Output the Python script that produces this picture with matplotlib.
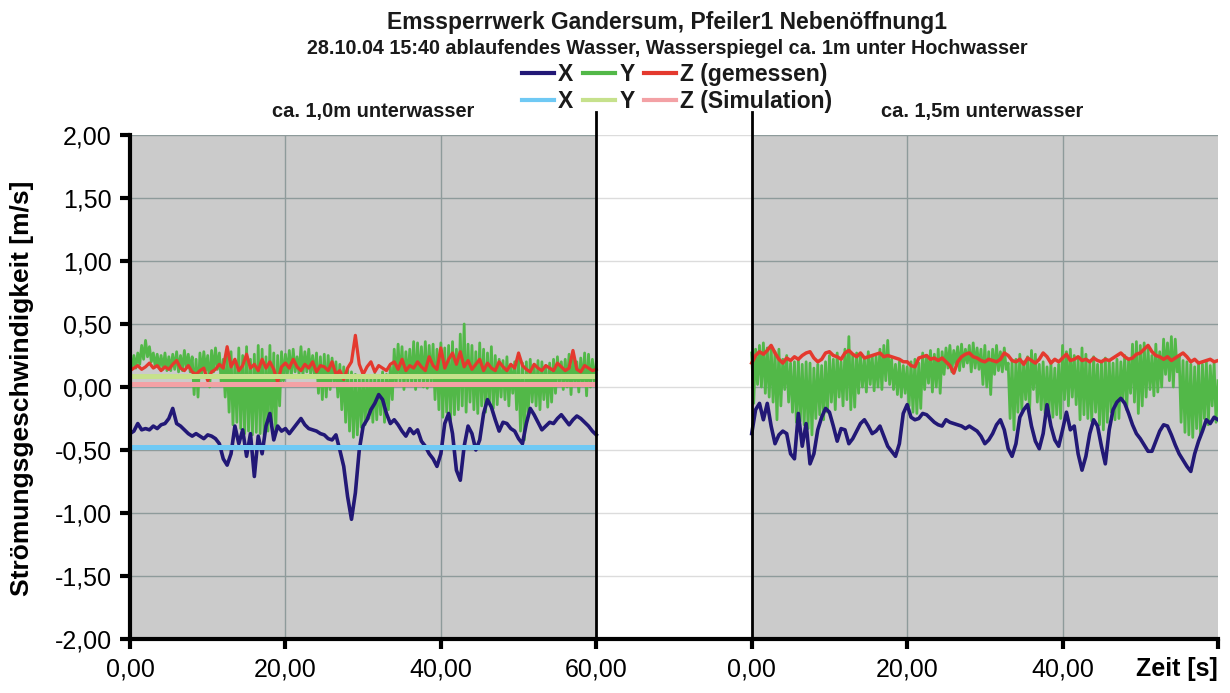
import numpy as np
import matplotlib
matplotlib.use("Agg")
import matplotlib.pyplot as plt
from matplotlib import font_manager

# ---------------- data ----------------
title = "Emssperrwerk Gandersum, Pfeiler1 Nebenöffnung1"
subtitle = "28.10.04 15:40 ablaufendes Wasser, Wasserspiegel ca. 1m unter Hochwasser"
panel_titles = ["ca. 1,0m unterwasser", "ca. 1,5m unterwasser"]
x_tick_values = [0, 20, 40, 60]
y_tick_values = [-2.0, -1.5, -1.0, -0.5, 0.0, 0.5, 1.0, 1.5, 2.0]

# measured X, 0.5 s steps (0..60 s), left panel (1,0 m)
x_left = [
    -0.37, -0.35, -0.29, -0.34, -0.33, -0.34, -0.31, -0.33, -0.30, -0.29,
    -0.25, -0.17, -0.29, -0.31, -0.34, -0.37, -0.39, -0.37, -0.39, -0.41,
    -0.38, -0.39, -0.41, -0.45, -0.57, -0.62, -0.53, -0.31, -0.45, -0.34,
    -0.55, -0.37, -0.71, -0.39, -0.53, -0.31, -0.21, -0.42, -0.31, -0.35,
    -0.33, -0.37, -0.33, -0.29, -0.25, -0.30, -0.33, -0.34, -0.35, -0.37,
    -0.38, -0.41, -0.42, -0.38, -0.50, -0.63, -0.87, -1.05, -0.84, -0.50,
    -0.31, -0.26, -0.18, -0.13, -0.06, -0.10, -0.21, -0.29, -0.26, -0.30,
    -0.35, -0.39, -0.33, -0.37, -0.34, -0.43, -0.47, -0.53, -0.57, -0.63,
    -0.53, -0.29, -0.21, -0.37, -0.66, -0.74, -0.47, -0.31, -0.37, -0.50,
    -0.42, -0.21, -0.10, -0.16, -0.26, -0.35, -0.28, -0.29, -0.33, -0.35,
    -0.41, -0.45, -0.29, -0.17, -0.22, -0.28, -0.34, -0.31, -0.28, -0.29,
    -0.25, -0.22, -0.26, -0.30, -0.26, -0.23, -0.25, -0.28, -0.31, -0.35,
    -0.38]

# measured X, right panel (1,5 m)
x_right = [
    -0.37, -0.18, -0.13, -0.26, -0.13, -0.31, -0.45, -0.38, -0.35, -0.37,
    -0.53, -0.57, -0.21, -0.47, -0.29, -0.61, -0.53, -0.34, -0.24, -0.17,
    -0.20, -0.31, -0.43, -0.33, -0.34, -0.45, -0.41, -0.35, -0.29, -0.26,
    -0.31, -0.37, -0.35, -0.31, -0.39, -0.47, -0.51, -0.55, -0.45, -0.21,
    -0.14, -0.24, -0.26, -0.25, -0.21, -0.22, -0.25, -0.28, -0.30, -0.31,
    -0.26, -0.28, -0.29, -0.30, -0.31, -0.33, -0.31, -0.33, -0.35, -0.39,
    -0.45, -0.42, -0.37, -0.30, -0.26, -0.34, -0.49, -0.55, -0.45, -0.24,
    -0.18, -0.14, -0.31, -0.43, -0.49, -0.37, -0.14, -0.31, -0.42, -0.47,
    -0.34, -0.20, -0.34, -0.31, -0.53, -0.66, -0.55, -0.37, -0.26, -0.31,
    -0.47, -0.61, -0.34, -0.18, -0.12, -0.09, -0.13, -0.21, -0.30, -0.37,
    -0.41, -0.46, -0.51, -0.51, -0.43, -0.35, -0.30, -0.31, -0.38, -0.46,
    -0.53, -0.58, -0.63, -0.67, -0.53, -0.43, -0.35, -0.26, -0.29, -0.24,
    -0.26]

# measured Y, 0.25 s steps (0..60 s), left panel
y_left = [
    0.22, 0.14, 0.25, 0.15,   0.27, 0.18, 0.33, 0.22,   0.37, 0.24, 0.32, 0.20,
    0.27, 0.16, 0.26, 0.15,   0.25, 0.14, 0.27, 0.13,   0.24, 0.13, 0.26, 0.14,
    0.28, 0.12, 0.25, 0.13,   0.29, 0.15, 0.26, 0.12,   0.24, -0.06, 0.22, -0.08,
    0.27, 0.10, 0.28, 0.13,   0.25, 0.00, 0.29, 0.12,   0.31, 0.14, 0.27, 0.02,
    0.22, -0.08, 0.24, -0.20, 0.28, -0.30, 0.20, -0.28, 0.31, -0.33, 0.25, -0.37,
    0.32, -0.35, 0.22, -0.38, 0.26, -0.36, 0.33, -0.37, 0.30, -0.38, 0.24, -0.35,
    0.33, -0.30, 0.27, -0.36, 0.25, -0.15, 0.28, 0.05,  0.26, 0.10, 0.29, 0.08,
    0.30, 0.12, 0.24, 0.10,   0.32, 0.09, 0.28, 0.12,   0.30, 0.10, 0.25, 0.08,
    0.27, -0.05, 0.24, -0.10, 0.26, -0.08, 0.25, -0.02, 0.23, 0.03, 0.20, -0.08,
    0.18, -0.18, 0.16, -0.28, 0.14, -0.35, 0.12, -0.40, 0.10, -0.38, 0.08, -0.32,
    0.10, -0.30, 0.07, -0.25, 0.09, -0.28, 0.10, -0.26, 0.08, -0.22, 0.12, -0.28,
    0.10, -0.18, 0.16, -0.10, 0.30, 0.02, 0.34, 0.04,   0.32, -0.02, 0.28, 0.03,
    0.30, 0.01, 0.36, -0.02,  0.35, 0.04, 0.32, 0.00,   0.36, -0.01, 0.33, 0.02,
    0.34, -0.10, 0.30, -0.18, 0.35, -0.24, 0.31, -0.20, 0.33, -0.26, 0.36, -0.22,
    0.30, -0.18, 0.42, -0.15, 0.50, -0.20, 0.34, -0.12, 0.33, -0.18, 0.28, -0.21,
    0.35, -0.15, 0.30, -0.20, 0.27, -0.12, 0.32, -0.17, 0.25, -0.14, 0.22, -0.08,
    0.21, -0.10, 0.24, -0.15, 0.18, -0.05, 0.20, -0.18, 0.22, -0.35, 0.19, -0.42,
    0.20, -0.20, 0.22, -0.12, 0.18, -0.15, 0.21, -0.18, 0.20, -0.10, 0.17, -0.16,
    0.19, -0.12, 0.22, -0.05, 0.24, 0.03, 0.20, -0.02,  0.22, 0.00, 0.26, -0.06,
    0.24, 0.02, 0.20, -0.04,  0.23, 0.01, 0.27, -0.07,  0.26, 0.00, 0.22, 0.03,
    0.20]

# measured Y, right panel
y_right = [
    0.27, -0.13, 0.30, 0.02,  0.33, 0.00, 0.35, -0.05,  0.31, -0.08, 0.32, -0.12,
    0.28, -0.26, 0.30, -0.15, 0.22, -0.02, 0.25, -0.12, 0.19, -0.20, 0.20, -0.28,
    0.22, -0.27, 0.18, -0.30, 0.20, -0.33, 0.19, -0.38, 0.15, -0.25, 0.18, -0.22,
    0.17, -0.26, 0.20, -0.20, 0.25, -0.12, 0.22, -0.18, 0.27, -0.08, 0.20, -0.15,
    0.30, -0.10, 0.40, -0.18, 0.25, -0.16, 0.27, -0.05, 0.26, 0.00, 0.22, -0.04,
    0.28, 0.02, 0.25, -0.03,  0.24, 0.00, 0.30, -0.02,  0.33, 0.05, 0.37, 0.02,
    0.22, -0.02, 0.18, -0.06, 0.20, -0.08, 0.17, -0.05, 0.16, -0.15, 0.20, -0.20,
    0.22, -0.21, 0.19, -0.17, 0.27, -0.02, 0.25, 0.03,  0.29, -0.04, 0.26, 0.00,
    0.30, -0.05, 0.28, 0.10,  0.31, 0.15, 0.33, 0.12,   0.29, 0.18, 0.32, 0.13,
    0.34, 0.16, 0.30, 0.19,   0.33, 0.12, 0.35, 0.15,   0.31, 0.14, 0.30, 0.02,
    0.33, 0.00, 0.28, -0.06,  0.30, 0.10, 0.33, 0.13,   0.28, 0.12, 0.31, 0.14,
    0.19, -0.25, 0.20, -0.34, 0.22, -0.20, 0.26, -0.18, 0.20, -0.10, 0.24, -0.20,
    0.29, -0.02, 0.26, -0.12, 0.18, -0.18, 0.20, -0.21, 0.16, -0.20, 0.19, -0.24,
    0.15, -0.22, 0.18, -0.25, 0.33, -0.10, 0.28, -0.15, 0.30, -0.08, 0.25, -0.14,
    0.22, -0.26, 0.31, -0.22, 0.26, -0.25, 0.19, -0.27, 0.24, -0.20, 0.18, -0.30,
    0.20, -0.34, 0.23, -0.28, 0.21, -0.20, 0.19, -0.26, 0.22, -0.25, 0.20, -0.10,
    0.25, -0.18, 0.22, -0.05, 0.34, -0.12, 0.36, -0.21, 0.33, -0.15, 0.35, -0.08,
    0.30, -0.02, 0.25, -0.07, 0.34, -0.04, 0.28, 0.00,  0.38, 0.10, 0.35, 0.05,
    0.40, 0.00, 0.38, 0.12,   0.25, -0.28, 0.21, -0.36, 0.20, -0.38, 0.18, -0.40,
    0.16, -0.33, 0.19, -0.39, 0.18, -0.25, 0.20, -0.30, 0.17, -0.15, 0.19, -0.28,
    0.05]

# measured Z, 0.5 s steps, left panel
z_left = [
    0.13, 0.15, 0.17, 0.14, 0.16, 0.19, 0.15, 0.17, 0.13, 0.16,
    0.14, 0.18, 0.21, 0.15, 0.13, 0.17, 0.12, 0.10, 0.13, 0.15,
    0.05, 0.12, 0.14, 0.18, 0.15, 0.32, 0.16, 0.22, 0.13, 0.17,
    0.26, 0.15, 0.18, 0.13, 0.22, 0.15, 0.20, 0.14, 0.04, 0.16,
    0.19, 0.15, 0.22, 0.16, 0.13, 0.18, 0.15, 0.20, 0.12, 0.17,
    0.16, 0.13, 0.20, 0.10, 0.13, 0.06, 0.15, 0.20, 0.41, 0.18,
    0.10, 0.16, 0.20, 0.12, 0.17, 0.15, 0.13, 0.18, 0.20, 0.14,
    0.22, 0.13, 0.17, 0.15, 0.20, 0.16, 0.13, 0.24, 0.17, 0.14,
    0.31, 0.15, 0.22, 0.27, 0.18, 0.28, 0.16, 0.21, 0.14, 0.18,
    0.22, 0.13, 0.19, 0.15, 0.13, 0.20, 0.16, 0.13, 0.18, 0.15,
    0.27, 0.17, 0.14, 0.12, 0.18, 0.15, 0.13, 0.17, 0.15, 0.13,
    0.19, 0.16, 0.13, 0.15, 0.29, 0.14, 0.12, 0.17, 0.15, 0.13,
    0.14]

# measured Z, right panel
z_right = [
    0.19, 0.25, 0.28, 0.26, 0.29, 0.33, 0.27, 0.22, 0.19, 0.23,
    0.21, 0.24, 0.22, 0.25, 0.27, 0.28, 0.23, 0.20, 0.22, 0.27,
    0.28, 0.25, 0.24, 0.22, 0.27, 0.29, 0.26, 0.24, 0.27, 0.23,
    0.24, 0.25, 0.26, 0.27, 0.24, 0.25, 0.24, 0.23, 0.22, 0.20,
    0.20, 0.17, 0.16, 0.23, 0.24, 0.25, 0.22, 0.23, 0.21, 0.23,
    0.20, 0.17, 0.11, 0.20, 0.24, 0.26, 0.27, 0.24, 0.23, 0.21,
    0.20, 0.22, 0.21, 0.20, 0.22, 0.27, 0.25, 0.21, 0.20, 0.22,
    0.18, 0.23, 0.21, 0.19, 0.22, 0.27, 0.24, 0.19, 0.22, 0.20,
    0.23, 0.26, 0.21, 0.22, 0.24, 0.21, 0.22, 0.20, 0.23, 0.21,
    0.20, 0.22, 0.21, 0.23, 0.25, 0.27, 0.24, 0.22, 0.23, 0.26,
    0.27, 0.30, 0.33, 0.28, 0.25, 0.24, 0.22, 0.24, 0.21, 0.23,
    0.25, 0.27, 0.24, 0.20, 0.22, 0.19, 0.20, 0.21, 0.22, 0.20,
    0.21]

# simulation values (left panel only): X, Y, Z
sim_values = [-0.48, 0.09, 0.02]
sim_duration = [0.0, 60.0]

# ---------------- style ----------------
C_X, C_Y, C_Z = "#221876", "#52b848", "#e4392e"
C_XS, C_YS, C_ZS = "#6fc9f4", "#c6e18c", "#f3a1a5"
GRAY = "#cbcbcb"
GRID_DARK = "#8e9b9b"
GRID_LIGHT = "#dcdcdc"
PANEL_W = 60.0
OFFSET = 80.0

avail = {f.name for f in font_manager.fontManager.ttflist}
FONT = "Liberation Sans" if "Liberation Sans" in avail else "DejaVu Sans"
plt.rcParams["font.family"] = [FONT, "DejaVu Sans"]

fig = plt.figure(figsize=(12.3, 6.93), dpi=100)
ax = fig.add_axes([130 / 1230, 1 - 639 / 693, (1218 - 130) / 1230, (639 - 135) / 693])

xmax = OFFSET + PANEL_W
ax.set_xlim(0, xmax)
ax.set_ylim(-2, 2)
ax.set_facecolor("white")

# gray plot areas
ax.axvspan(0, PANEL_W, color=GRAY, zorder=0, lw=0)
ax.axvspan(OFFSET, xmax, color=GRAY, zorder=0, lw=0)

# grid lines
for yv in y_tick_values:
    ax.hlines(yv, 0, PANEL_W, color=GRID_DARK, lw=1.0, zorder=1)
    ax.hlines(yv, OFFSET, xmax, color=GRID_DARK, lw=1.0, zorder=1)
    ax.hlines(yv, PANEL_W, OFFSET, color=GRID_LIGHT, lw=1.0, zorder=1)
for xv in x_tick_values[1:-1]:
    ax.axvline(xv, color=GRID_DARK, lw=1.0, zorder=1)
    ax.axvline(xv + OFFSET, color=GRID_DARK, lw=1.0, zorder=1)

t_half = np.arange(len(x_left)) * 0.5
t_quarter = np.arange(len(y_left)) * 0.25

# measured series
ax.plot(t_quarter, y_left, color=C_Y, lw=2.0, zorder=3)
ax.plot(t_quarter + OFFSET, y_right, color=C_Y, lw=2.0, zorder=3)
ax.plot(t_half, x_left, color=C_X, lw=2.6, zorder=4)
ax.plot(t_half + OFFSET, x_right, color=C_X, lw=2.6, zorder=4)
ax.plot(t_half, z_left, color=C_Z, lw=2.3, zorder=5)
ax.plot(t_half + OFFSET, z_right, color=C_Z, lw=2.5, zorder=5)

# simulation lines
sim_colors = [C_XS, C_YS, C_ZS]
for v, c in zip(sim_values, sim_colors):
    ax.plot(sim_duration, [v, v], color=c, lw=3.6, zorder=6, solid_capstyle="butt")

# panel separators
for xv in (PANEL_W, OFFSET):
    ax.axvline(xv, ymin=0, ymax=1.046, color="black", lw=2.0, zorder=7, clip_on=False)

# axes styling
for s in ("top", "right"):
    ax.spines[s].set_visible(False)
ax.spines["left"].set_linewidth(3.0)
ax.spines["bottom"].set_linewidth(3.0)
ax.spines["left"].set_zorder(8)
ax.spines["bottom"].set_zorder(8)

ax.set_yticks(y_tick_values)
ax.set_yticklabels([f"{v:.2f}".replace(".", ",") for v in y_tick_values])
xt = list(x_tick_values) + [v + OFFSET for v in x_tick_values[:-1]] + [xmax]
xl = [f"{v:.2f}".replace(".", ",") for v in x_tick_values] + \
     [f"{v:.2f}".replace(".", ",") for v in x_tick_values[:-1]] + ["Zeit [s]"]
ax.set_xticks(xt)
ax.set_xticklabels(xl)
ax.tick_params(axis="both", direction="out", length=7, width=3, labelsize=18,
               colors="black", pad=6)
lab = ax.get_xticklabels()[-1]
lab.set_ha("right")
lab.set_fontweight("bold")

fig.text(0.018, 0.44, "Strömungsgeschwindigkeit [m/s]", rotation=90,
         ha="center", va="center", fontsize=19, fontweight="bold")

# titles
TX = 667 / 1230
fig.text(TX, 1 - 22 / 693, title, ha="center", va="center", fontsize=16.5,
         fontweight="bold", color="#1a1a1a")
fig.text(TX, 1 - 48 / 693, subtitle, ha="center", va="center", fontsize=14.2,
         fontweight="bold", color="#1a1a1a")
ax.text(PANEL_W / 2 + 1.3, 2.0 + 24 / 126, panel_titles[0], ha="center", va="center",
        fontsize=14.4, fontweight="bold", color="#1a1a1a")
ax.text(OFFSET + PANEL_W / 2 - 0.3, 2.0 + 24 / 126, panel_titles[1], ha="center",
        va="center", fontsize=14.4, fontweight="bold", color="#1a1a1a")

# legend: row 1 measured, row 2 simulation
handles = [
    plt.Line2D([], [], color=C_X, lw=3), plt.Line2D([], [], color=C_XS, lw=3),
    plt.Line2D([], [], color=C_Y, lw=3), plt.Line2D([], [], color=C_YS, lw=3),
    plt.Line2D([], [], color=C_Z, lw=3), plt.Line2D([], [], color=C_ZS, lw=3),
]
labels = ["X", "X", "Y", "Y", "Z (gemessen)", "Z (Simulation)"]
leg = fig.legend(handles, labels, ncol=3, loc="center",
                 bbox_to_anchor=(677 / 1230, 1 - 88 / 693), frameon=False,
                 handlelength=1.4, handletextpad=0.2, columnspacing=0.4,
                 labelspacing=0.2, borderpad=0.1,
                 prop={"weight": "bold", "size": 16.5})
for txt in leg.get_texts():
    txt.set_color("#1a1a1a")

fig.savefig("out.png", dpi=100)
